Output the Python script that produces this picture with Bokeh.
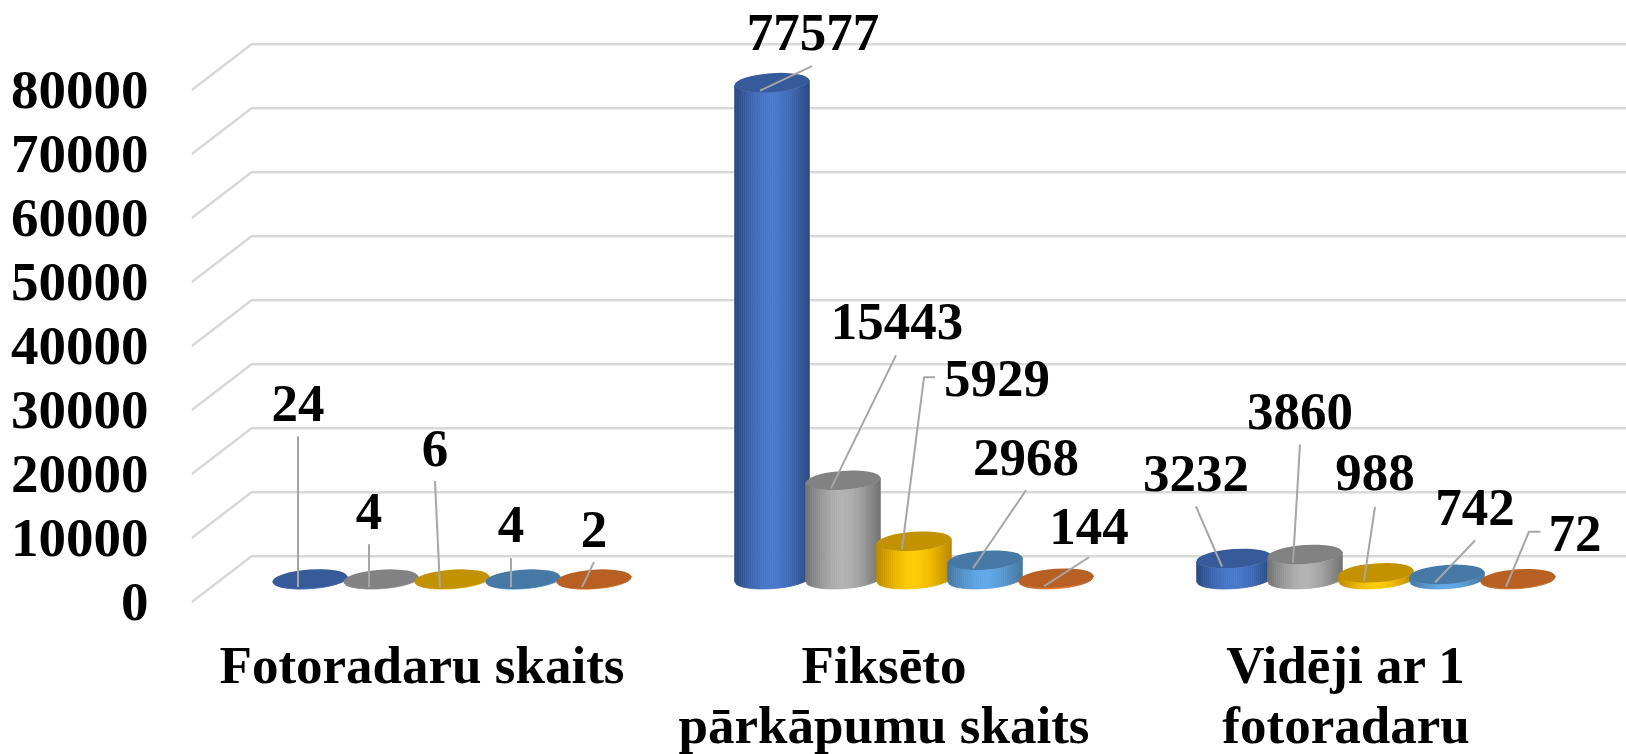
import math
from bokeh.plotting import figure
from bokeh.models import FixedTicker, Range1d
from bokeh.core.properties import value
from bokeh.embed import file_html
from bokeh.resources import INLINE

# ---- data ----
categories = ["Fotoradaru skaits", "Fiksēto\npārkāpumu skaits", "Vidēji ar 1\nfotoradaru"]
series_a = [24, 77577, 3232]
series_b = [4, 15443, 3860]
series_c = [6, 5929, 988]
series_d = [4, 2968, 742]
series_e = [2, 144, 72]
y_ticks = [0, 10000, 20000, 30000, 40000, 50000, 60000, 70000, 80000]

# ---- style ----
edge_cols = ["#2c4a80", "#747474", "#bc8a00", "#4577a3", "#b05a20"]
mid_cols = ["#4878cc", "#b2b2b2", "#ffcb00", "#60a8e6", "#e87a2e"]
top_cols = ["#365a9a", "#828282", "#c29200", "#4679a6", "#b86024"]
FONT = "Liberation Serif"
FS_Y = "55px"
FS = "53px"

# ---- layout (pixels) ----
W, H = 1626, 754
LEFT = 191
FW, FH = W - LEFT, H
PX_X = 462.0            # pixels per category
PX_Y = 0.0064           # pixels per unit
x0, x1 = -0.4989, -0.4989 + FW / PX_X
y0 = -152.3 / PX_Y
y1 = y0 + FH / PX_Y
DEPTH_X, DEPTH_Y = 60 / PX_X, 46 / PX_Y
STEP = 71 / PX_X
A, B, TILT = 37.5, 9.5, math.radians(4)
SLICES = 36
CAT_TOP = -33.6 / PX_Y  # top of the category labels below the zero line

# label / leader offsets from each bar's anchor, pixels (right, up)
label_off = [
    [(0, 184), (53, 58.5), (-26, 93.5)],
    [(0, 76), (66, 167), (7, 151)],
    [(-5, 139), (95, 171), (11, 108)],
    [(0, 63), (53, 111), (40, 75)],
    [(12, 58), (45, 60), (69, 53)],
]
leader_off = [
    [[(0, 150.7)], [(52, 24.5)], [(-26, 60)]],
    [[(0, 43)], [(65, 133)], [(7, 118)]],
    [[(-5, 106)], [(33, 172), (22, 172)], [(11, 74)]],
    [[(0, 29)], [(53, 78)], [(40, 42)]],
    [[(12, 25)], [(45, 29)], [(34.5, 55), (23, 55)]],
]

p = figure(width=W, height=H, frame_width=FW, frame_height=FH, output_backend="svg",
           toolbar_location=None, x_range=Range1d(x0, x1), y_range=Range1d(y0, y1),
           min_border_left=LEFT, min_border_right=0, min_border_top=0, min_border_bottom=0)
p.outline_line_color = None
p.grid.visible = False
p.xaxis.visible = False

ax = p.yaxis[0]
ax.ticker = FixedTicker(ticks=y_ticks)
ax.axis_line_color = None
ax.major_tick_line_color = None
ax.minor_tick_line_color = None
ax.major_label_text_font = FONT
ax.major_label_text_font_style = "bold"
ax.major_label_text_color = "#000000"
ax.major_label_text_font_size = FS_Y
ax.major_label_standoff = 37

# floor/wall gridlines
p.multi_line([[x0, x0 + DEPTH_X, x1] for _ in y_ticks],
             [[t, t + DEPTH_Y, t + DEPTH_Y] for t in y_ticks],
             line_color="#d9d9d9", line_width=2.5)

# category labels
p.text(list(range(len(categories))), [CAT_TOP] * len(categories), text=categories,
       text_font=value(FONT), text_font_style="bold", text_font_size=FS,
       text_color="#000000", text_align="center", text_baseline="top", text_line_height=1.04)


def mix(c1, c2, f):
    a = [int(c1[k:k + 2], 16) for k in (1, 3, 5)]
    b = [int(c2[k:k + 2], 16) for k in (1, 3, 5)]
    return "#%02x%02x%02x" % tuple(round(u + (w - u) * f) for u, w in zip(a, b))


def rim(phi):
    return (A * math.cos(phi) * math.cos(TILT) - B * math.sin(phi) * math.sin(TILT),
            A * math.cos(phi) * math.sin(TILT) + B * math.sin(phi) * math.cos(TILT))


def phi_at(k):
    # evenly spaced across the cylinder's width, along its front rim
    return 2 * math.pi - math.acos(-1 + 2 * k / SLICES)


all_series = [series_a, series_b, series_c, series_d, series_e]
for j, vals in enumerate(all_series):
    xs, ys, cols = [], [], []
    top_x, top_y = [], []
    lab_x, lab_y, lab_t = [], [], []
    lead_x, lead_y = [], []
    for i, v in enumerate(vals):
        cx = i + DEPTH_X / 2 + (j - 2) * STEP
        base = DEPTH_Y / 2
        top = base + v
        for k in range(SLICES):
            p1 = rim(phi_at(k))
            p2 = rim(phi_at(k + 1))
            u = (p1[0] + p2[0]) / 2 / A
            f = math.cos(u * math.pi / 2) ** 1.2
            xs.append([cx + p1[0] / PX_X, cx + p2[0] / PX_X, cx + p2[0] / PX_X, cx + p1[0] / PX_X])
            ys.append([base + p1[1] / PX_Y, base + p2[1] / PX_Y, top + p2[1] / PX_Y, top + p1[1] / PX_Y])
            cols.append(mix(edge_cols[j], mid_cols[j], f))
        top_x.append(cx)
        top_y.append(top)
        ax_, ay_ = cx - 12 / PX_X, top - 8 / PX_Y
        lo = label_off[j][i]
        lab_x.append(ax_ + lo[0] / PX_X)
        lab_y.append(ay_ + lo[1] / PX_Y)
        lab_t.append(str(v))
        pts = leader_off[j][i]
        lead_x.append([ax_ + q[0] / PX_X for q in pts] + [ax_])
        lead_y.append([ay_ + q[1] / PX_Y for q in pts] + [ay_])
    p.patches(xs, ys, fill_color=cols, line_color=cols, line_width=0.7)
    p.ellipse(top_x, top_y, width=2 * A, height=2 * B, angle=TILT, angle_units="rad",
              width_units="screen", height_units="screen",
              fill_color=top_cols[j], line_color=None)
    p.multi_line(lead_x, lead_y, line_color="#a6a6a6", line_width=2)
    p.text(lab_x, lab_y, text=lab_t, text_font=value(FONT), text_font_style="bold",
           text_font_size=FS, text_color="#000000", text_align="center", text_baseline="middle")

open("out.html", "w").write(file_html(p, INLINE))
